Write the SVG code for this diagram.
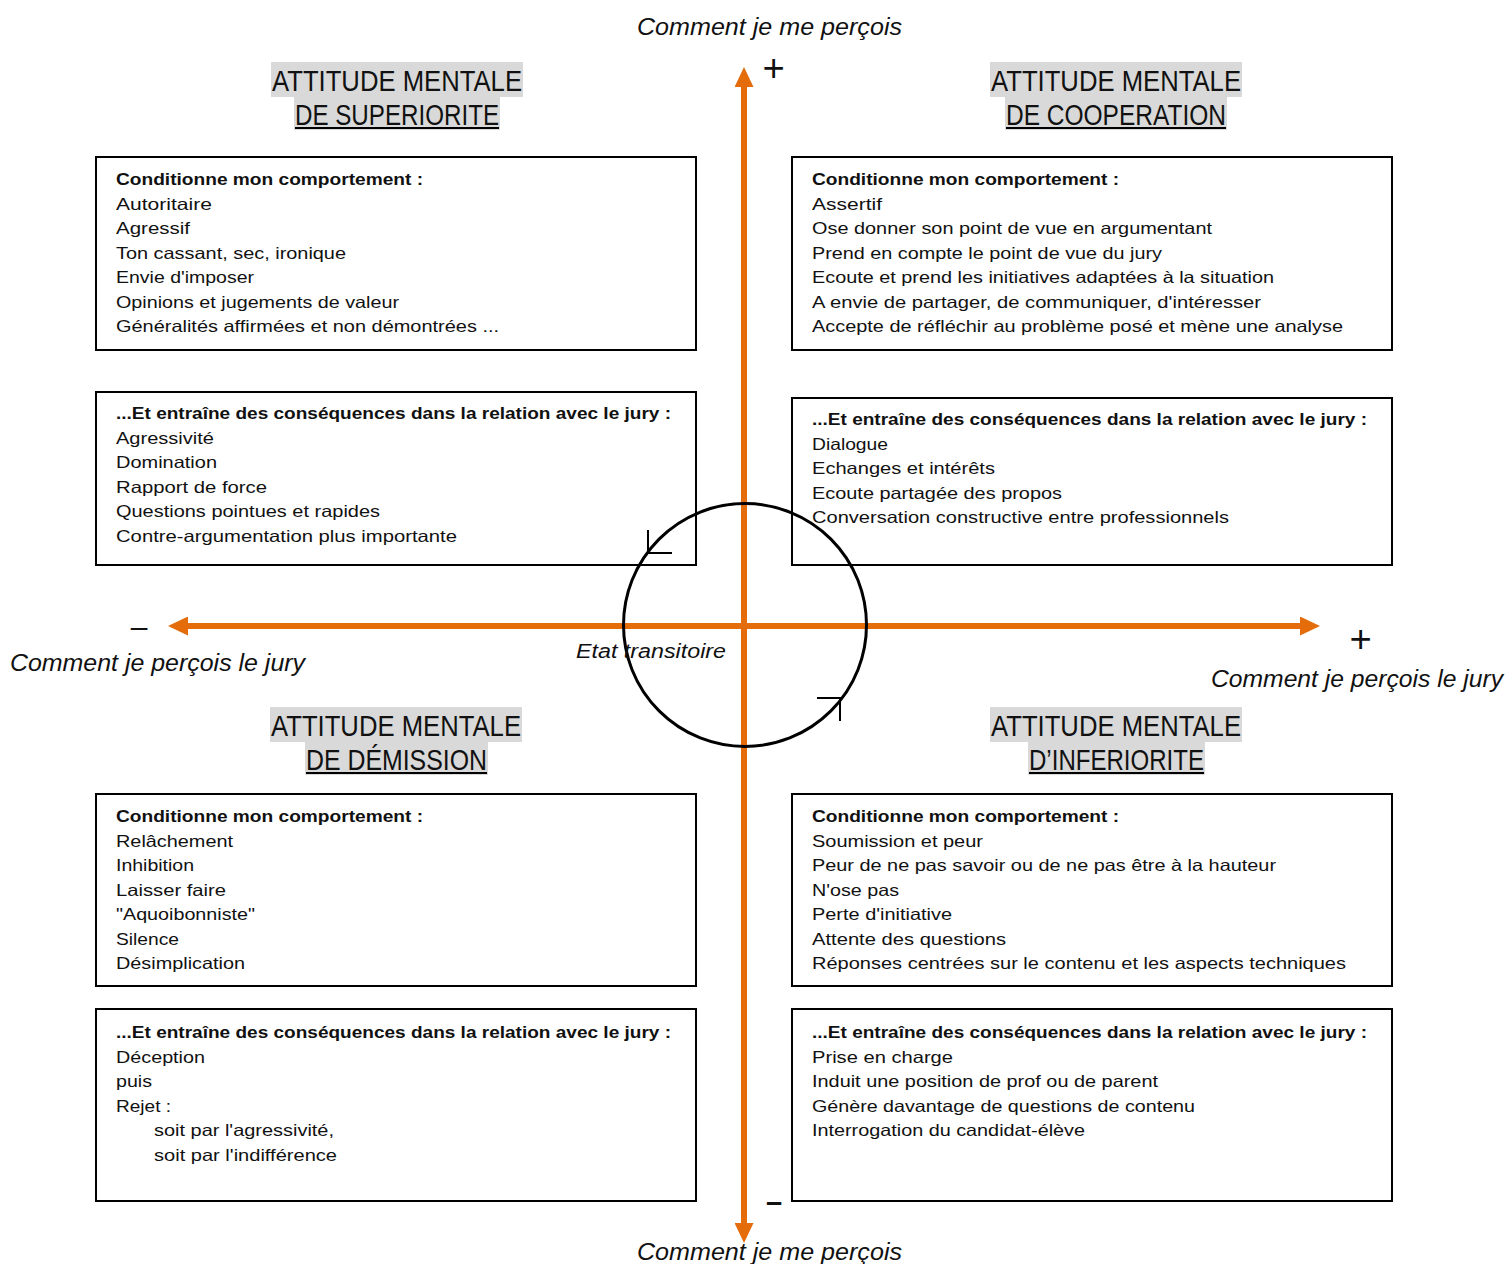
<svg xmlns="http://www.w3.org/2000/svg" width="1511" height="1264" viewBox="0 0 1511 1264">
<style>
text{font-family:"Liberation Sans",Arial,sans-serif;fill:#111}
.t{font-size:16.5px}
.tb{font-size:16.5px;font-weight:bold}
.hd{font-size:29px}
.ax{font-size:23px;font-style:italic}
.et{font-size:20px;font-style:italic}
.box{fill:none;stroke:#000;stroke-width:2}
.hbg{fill:#d9d9d9}
.ul{fill:#000}
.axis{stroke:#E46C0A;stroke-width:6;fill:none;marker-start:url(#ah);marker-end:url(#ah)}
.sign{font-style:italic}
</style>
<defs>
<marker id="ah" markerUnits="userSpaceOnUse" markerWidth="20" markerHeight="19" refX="0" refY="9.5" orient="auto-start-reverse" viewBox="0 0 20 19">
<path d="M0,0 L20,9.5 L0,19 Z" fill="#E46C0A"/>
</marker>
</defs>

<g id="connectors">
<line class="axis" x1="744" y1="1223" x2="744" y2="87"/>
<line class="axis" x1="1300" y1="626" x2="188" y2="626"/>
</g>

<g id="axis-labels">
<text class="ax" x="637" y="35" textLength="265" lengthAdjust="spacingAndGlyphs">Comment je me perçois</text>
<text class="ax" x="637" y="1260" textLength="265" lengthAdjust="spacingAndGlyphs">Comment je me perçois</text>
<text class="ax" x="10" y="671" textLength="295" lengthAdjust="spacingAndGlyphs">Comment je perçois le jury</text>
<text class="ax" x="1211" y="687" textLength="292" lengthAdjust="spacingAndGlyphs">Comment je perçois le jury</text>
<text class="sign" x="773" y="81" font-size="38" text-anchor="middle">+</text>
<text class="sign" x="1360" y="652" font-size="38" text-anchor="middle">+</text>
<text x="139" y="637" font-size="30" text-anchor="middle">–</text>
<text x="774" y="1212" font-size="29" font-weight="bold" text-anchor="middle">–</text>
</g>

<g id="h-superiorite">
<rect class="hbg" x="271" y="62" width="252" height="35"/>
<rect class="hbg" x="294" y="97" width="206" height="33"/>
<text class="hd" x="272" y="91" textLength="250" lengthAdjust="spacingAndGlyphs">ATTITUDE MENTALE</text>
<text class="hd" x="295" y="125" textLength="204" lengthAdjust="spacingAndGlyphs">DE SUPERIORITE</text>
<rect class="ul" x="295" y="127" width="204" height="2"/>
</g>
<g id="h-cooperation">
<rect class="hbg" x="990" y="62" width="252" height="35"/>
<rect class="hbg" x="1005" y="97" width="222" height="33"/>
<text class="hd" x="991" y="91" textLength="250" lengthAdjust="spacingAndGlyphs">ATTITUDE MENTALE</text>
<text class="hd" x="1006" y="125" textLength="220" lengthAdjust="spacingAndGlyphs">DE COOPERATION</text>
<rect class="ul" x="1006" y="127" width="220" height="2"/>
</g>
<g id="h-demission">
<rect class="hbg" x="270" y="707" width="252" height="35"/>
<rect class="hbg" x="305" y="742" width="183" height="33"/>
<text class="hd" x="271" y="736" textLength="250" lengthAdjust="spacingAndGlyphs">ATTITUDE MENTALE</text>
<text class="hd" x="306" y="770" textLength="181" lengthAdjust="spacingAndGlyphs">DE DÉMISSION</text>
<rect class="ul" x="306" y="772" width="181" height="2"/>
</g>
<g id="h-inferiorite">
<rect class="hbg" x="990" y="707" width="252" height="35"/>
<rect class="hbg" x="1028" y="742" width="177" height="33"/>
<text class="hd" x="991" y="736" textLength="250" lengthAdjust="spacingAndGlyphs">ATTITUDE MENTALE</text>
<text class="hd" x="1029" y="770" textLength="175" lengthAdjust="spacingAndGlyphs">D’INFERIORITE</text>
<rect class="ul" x="1029" y="772" width="175" height="2"/>
</g>

<g id="box-sup-comportement">
<rect class="box" x="96" y="157" width="600" height="193"/>
<text class="tb" x="116" y="185" textLength="307" lengthAdjust="spacingAndGlyphs">Conditionne mon comportement :</text>
<text class="t" x="116" y="209.5" textLength="96" lengthAdjust="spacingAndGlyphs">Autoritaire</text>
<text class="t" x="116" y="234" textLength="74" lengthAdjust="spacingAndGlyphs">Agressif</text>
<text class="t" x="116" y="258.5" textLength="230" lengthAdjust="spacingAndGlyphs">Ton cassant, sec, ironique</text>
<text class="t" x="116" y="283" textLength="138" lengthAdjust="spacingAndGlyphs">Envie d'imposer</text>
<text class="t" x="116" y="307.5" textLength="283" lengthAdjust="spacingAndGlyphs">Opinions et jugements de valeur</text>
<text class="t" x="116" y="332" textLength="383" lengthAdjust="spacingAndGlyphs">Généralités affirmées et non démontrées ...</text>
</g>
<g id="box-sup-consequences">
<rect class="box" x="96" y="392" width="600" height="173"/>
<text class="tb" x="116" y="419" textLength="555" lengthAdjust="spacingAndGlyphs">...Et entraîne des conséquences dans la relation avec le jury :</text>
<text class="t" x="116" y="443.5" textLength="98" lengthAdjust="spacingAndGlyphs">Agressivité</text>
<text class="t" x="116" y="468" textLength="101" lengthAdjust="spacingAndGlyphs">Domination</text>
<text class="t" x="116" y="492.5" textLength="151" lengthAdjust="spacingAndGlyphs">Rapport de force</text>
<text class="t" x="116" y="517" textLength="264" lengthAdjust="spacingAndGlyphs">Questions pointues et rapides</text>
<text class="t" x="116" y="541.5" textLength="341" lengthAdjust="spacingAndGlyphs">Contre-argumentation plus importante</text>
</g>

<g id="box-coop-comportement">
<rect class="box" x="792" y="157" width="600" height="193"/>
<text class="tb" x="812" y="185" textLength="307" lengthAdjust="spacingAndGlyphs">Conditionne mon comportement :</text>
<text class="t" x="812" y="209.5" textLength="70" lengthAdjust="spacingAndGlyphs">Assertif</text>
<text class="t" x="812" y="234" textLength="400" lengthAdjust="spacingAndGlyphs">Ose donner son point de vue en argumentant</text>
<text class="t" x="812" y="258.5" textLength="350" lengthAdjust="spacingAndGlyphs">Prend en compte le point de vue du jury</text>
<text class="t" x="812" y="283" textLength="462" lengthAdjust="spacingAndGlyphs">Ecoute et prend les initiatives adaptées à la situation</text>
<text class="t" x="812" y="307.5" textLength="449" lengthAdjust="spacingAndGlyphs">A envie de partager, de communiquer, d'intéresser</text>
<text class="t" x="812" y="332" textLength="531" lengthAdjust="spacingAndGlyphs">Accepte de réfléchir au problème posé et mène une analyse</text>
</g>
<g id="box-coop-consequences">
<rect class="box" x="792" y="398" width="600" height="167"/>
<text class="tb" x="812" y="425" textLength="555" lengthAdjust="spacingAndGlyphs">...Et entraîne des conséquences dans la relation avec le jury :</text>
<text class="t" x="812" y="449.5" textLength="76" lengthAdjust="spacingAndGlyphs">Dialogue</text>
<text class="t" x="812" y="474" textLength="183" lengthAdjust="spacingAndGlyphs">Echanges et intérêts</text>
<text class="t" x="812" y="498.5" textLength="250" lengthAdjust="spacingAndGlyphs">Ecoute partagée des propos</text>
<text class="t" x="812" y="523" textLength="417" lengthAdjust="spacingAndGlyphs">Conversation constructive entre professionnels</text>
</g>

<g id="box-dem-comportement">
<rect class="box" x="96" y="794" width="600" height="192"/>
<text class="tb" x="116" y="822" textLength="307" lengthAdjust="spacingAndGlyphs">Conditionne mon comportement :</text>
<text class="t" x="116" y="846.5" textLength="117" lengthAdjust="spacingAndGlyphs">Relâchement</text>
<text class="t" x="116" y="871" textLength="78" lengthAdjust="spacingAndGlyphs">Inhibition</text>
<text class="t" x="116" y="895.5" textLength="110" lengthAdjust="spacingAndGlyphs">Laisser faire</text>
<text class="t" x="116" y="920" textLength="139" lengthAdjust="spacingAndGlyphs">"Aquoibonniste"</text>
<text class="t" x="116" y="944.5" textLength="63" lengthAdjust="spacingAndGlyphs">Silence</text>
<text class="t" x="116" y="969" textLength="129" lengthAdjust="spacingAndGlyphs">Désimplication</text>
</g>
<g id="box-dem-consequences">
<rect class="box" x="96" y="1009" width="600" height="192"/>
<text class="tb" x="116" y="1038" textLength="555" lengthAdjust="spacingAndGlyphs">...Et entraîne des conséquences dans la relation avec le jury :</text>
<text class="t" x="116" y="1062.5" textLength="89" lengthAdjust="spacingAndGlyphs">Déception</text>
<text class="t" x="116" y="1087" textLength="36" lengthAdjust="spacingAndGlyphs">puis</text>
<text class="t" x="116" y="1111.5" textLength="55" lengthAdjust="spacingAndGlyphs">Rejet :</text>
<text class="t" x="154" y="1136" textLength="180" lengthAdjust="spacingAndGlyphs">soit par l'agressivité,</text>
<text class="t" x="154" y="1160.5" textLength="183" lengthAdjust="spacingAndGlyphs">soit par l'indifférence</text>
</g>

<g id="box-inf-comportement">
<rect class="box" x="792" y="794" width="600" height="192"/>
<text class="tb" x="812" y="822" textLength="307" lengthAdjust="spacingAndGlyphs">Conditionne mon comportement :</text>
<text class="t" x="812" y="846.5" textLength="171" lengthAdjust="spacingAndGlyphs">Soumission et peur</text>
<text class="t" x="812" y="871" textLength="464" lengthAdjust="spacingAndGlyphs">Peur de ne pas savoir ou de ne pas être à la hauteur</text>
<text class="t" x="812" y="895.5" textLength="87" lengthAdjust="spacingAndGlyphs">N'ose pas</text>
<text class="t" x="812" y="920" textLength="140" lengthAdjust="spacingAndGlyphs">Perte d'initiative</text>
<text class="t" x="812" y="944.5" textLength="194" lengthAdjust="spacingAndGlyphs">Attente des questions</text>
<text class="t" x="812" y="969" textLength="534" lengthAdjust="spacingAndGlyphs">Réponses centrées sur le contenu et les aspects techniques</text>
</g>
<g id="box-inf-consequences">
<rect class="box" x="792" y="1009" width="600" height="192"/>
<text class="tb" x="812" y="1038" textLength="555" lengthAdjust="spacingAndGlyphs">...Et entraîne des conséquences dans la relation avec le jury :</text>
<text class="t" x="812" y="1062.5" textLength="141" lengthAdjust="spacingAndGlyphs">Prise en charge</text>
<text class="t" x="812" y="1087" textLength="346" lengthAdjust="spacingAndGlyphs">Induit une position de prof ou de parent</text>
<text class="t" x="812" y="1111.5" textLength="383" lengthAdjust="spacingAndGlyphs">Génère davantage de questions de contenu</text>
<text class="t" x="812" y="1136" textLength="273" lengthAdjust="spacingAndGlyphs">Interrogation du candidat-élève</text>
</g>

<g id="etat-transitoire">
<circle cx="745" cy="625" r="121.5" fill="none" stroke="#000" stroke-width="3"/>
<path d="M648,530 V553 H672 M817,698 H840 V721" fill="none" stroke="#000" stroke-width="2"/>
<text class="et" x="576" y="658" textLength="150" lengthAdjust="spacingAndGlyphs">Etat transitoire</text>
</g>
</svg>
